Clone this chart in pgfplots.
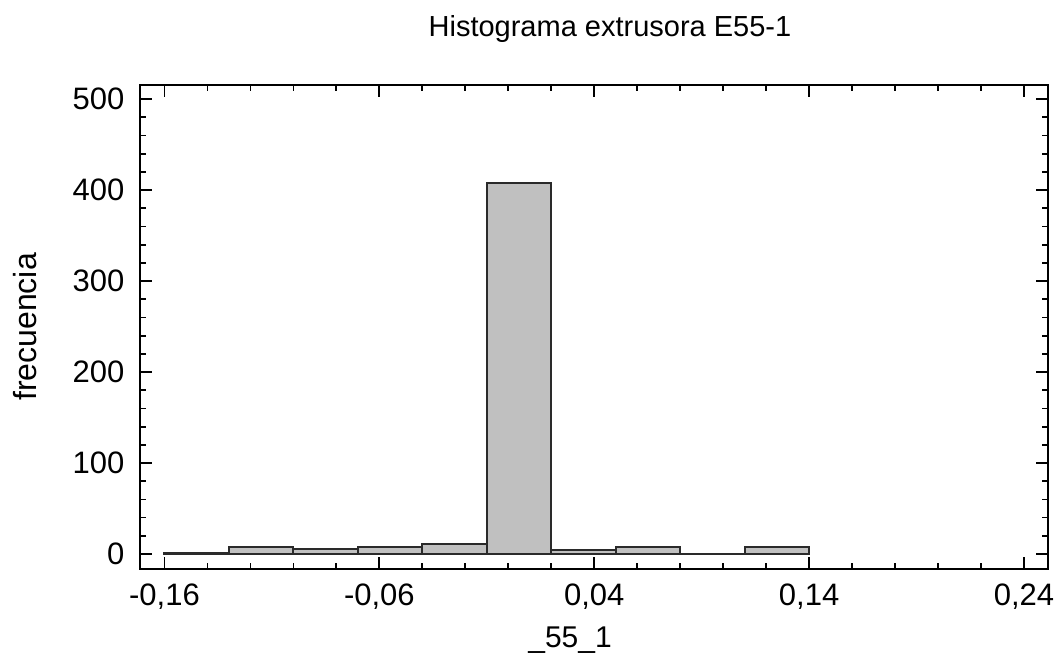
\documentclass[border=0pt]{standalone}
\usepackage{pgfplots}
\pgfplotsset{compat=1.18}
\usepackage{fontspec}
\setmainfont{Liberation Sans}
\definecolor{barfill}{HTML}{C0C0C0}
\definecolor{barline}{HTML}{2A2A2A}
\begin{document}
\begin{tikzpicture}
\begin{axis}[
  scale only axis,
  width=908pt, height=484pt,
  xmin=-0.1714, xmax=0.2512,
  ymin=-16.5, ymax=515.5,
  axis line style={line width=2pt, black},
  tick align=inside,
  xtick={-0.16,-0.06,0.04,0.14,0.24},
  xticklabels={{-0,16},{-0,06},{0,04},{0,14},{0,24}},
  minor x tick num=4,
  ytick={0,100,200,300,400,500},
  minor y tick num=4,
  major tick length=12pt,
  minor tick length=6pt,
  every tick/.style={black, line width=1.8pt},
  /pgf/number format/assume math mode=true,
  ticklabel style={font=\fontsize{31}{34}\selectfont},
  xticklabel style={yshift=-11pt},
  yticklabel style={xshift=-12pt},
  title={Histograma extrusora E55-1},
  title style={at={(axis description cs:0.5176,1.1033)}, anchor=center, font=\fontsize{29}{32}\selectfont},
  xlabel={\_55\_1},
  xlabel style={at={(axis description cs:0.4736,-0.1467)}, anchor=center, font=\fontsize{30}{33}\selectfont},
  ylabel={frecuencia},
  ylabel style={at={(axis description cs:-0.1267,0.5)}, anchor=center, rotate=0, font=\fontsize{32}{35}\selectfont},
]
\addplot[ybar interval, fill=barfill, draw=barline, line width=2pt] coordinates {
  (-0.16,1) (-0.13,8) (-0.10,6) (-0.07,8) (-0.04,11) (-0.01,408)
  (0.02,4) (0.05,8) (0.08,0) (0.11,8) (0.14,0)
};
\end{axis}
\pgfresetboundingbox
\path (-140pt,-96pt) rectangle (921pt,569pt);
\end{tikzpicture}
\end{document}
